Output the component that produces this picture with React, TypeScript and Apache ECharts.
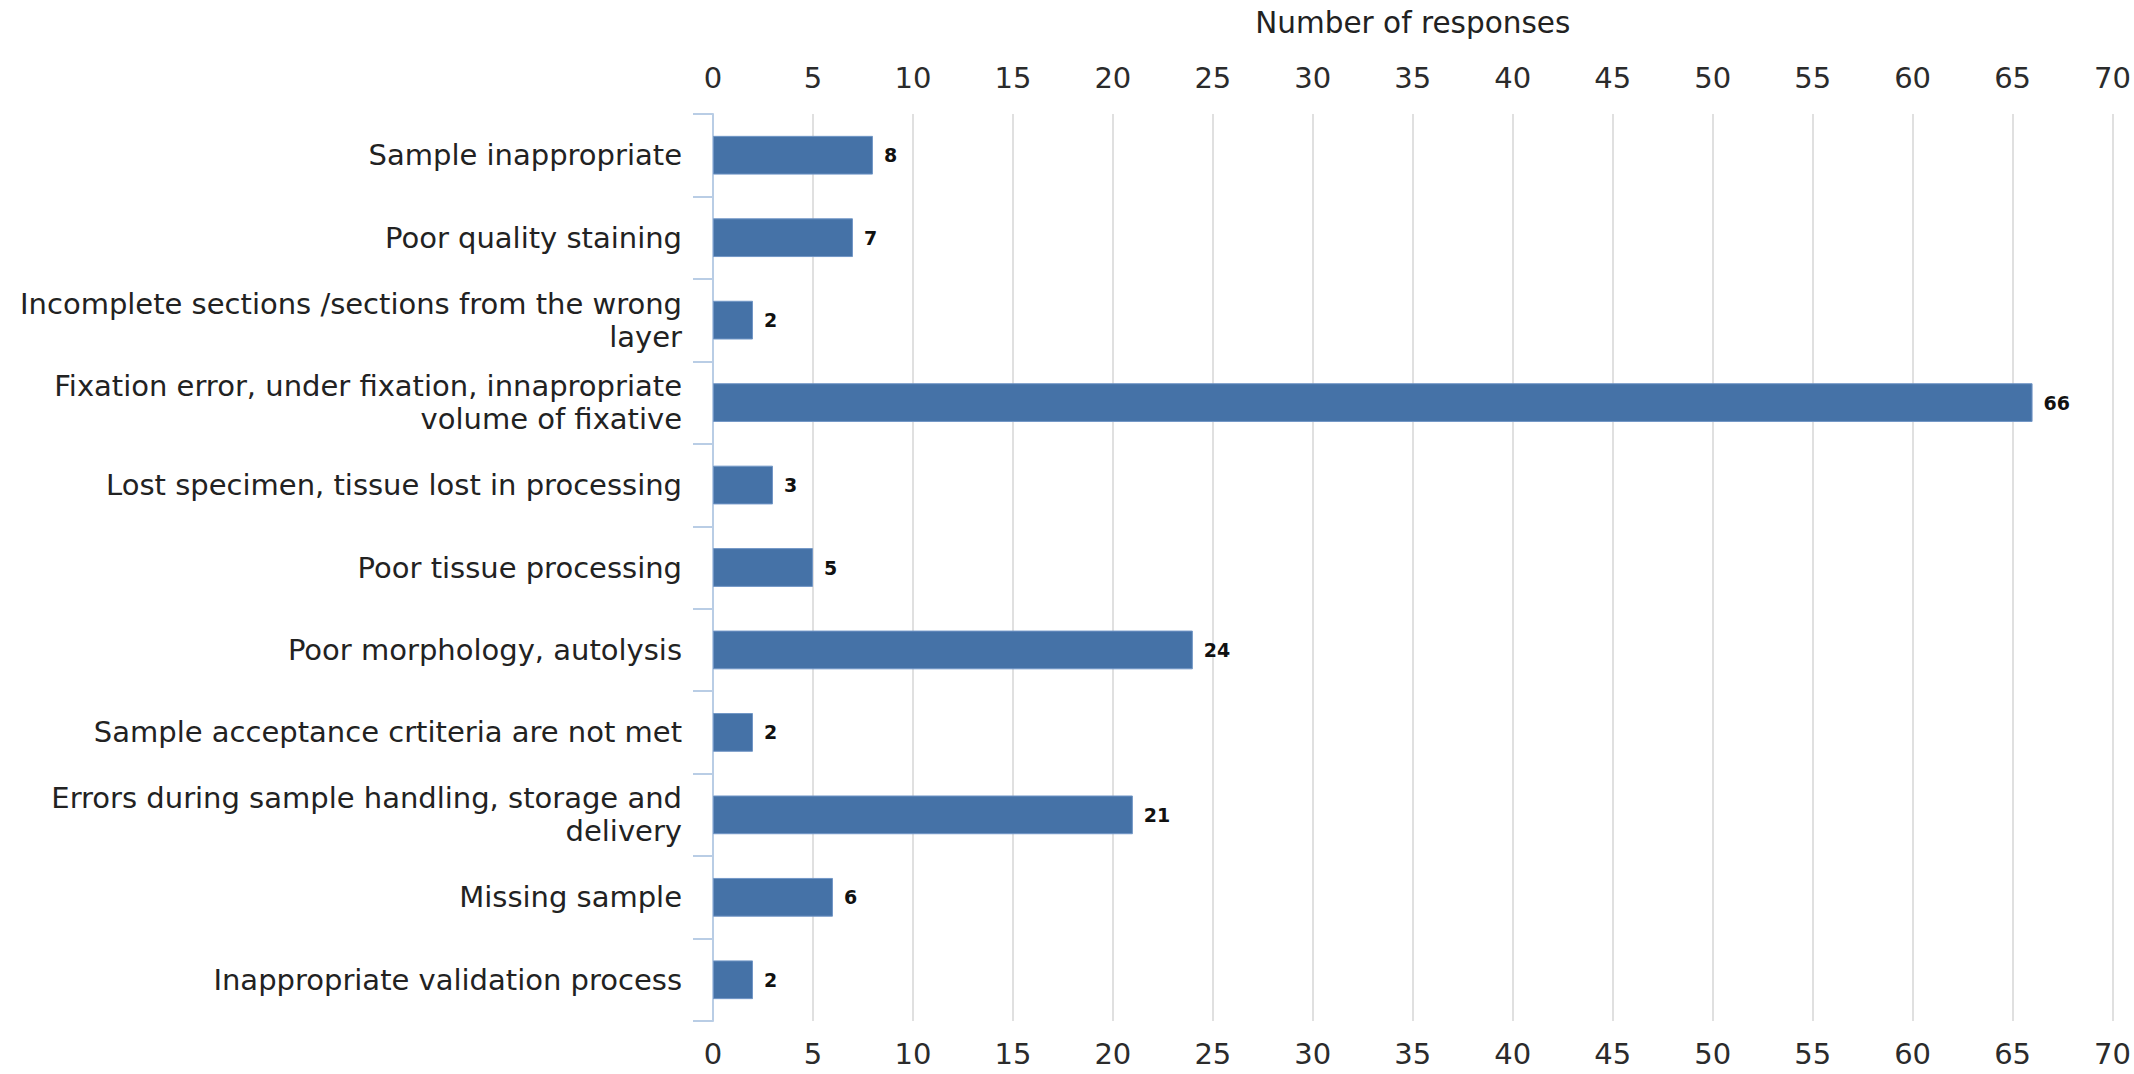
import React, { useEffect, useRef } from "react";
import * as echarts from "echarts";

const categories: string[] = [
  "Sample inappropriate",
  "Poor quality staining",
  "Incomplete sections /sections from the wrong\nlayer",
  "Fixation error, under fixation, innapropriate\nvolume of fixative",
  "Lost specimen, tissue lost in processing",
  "Poor tissue processing",
  "Poor morphology, autolysis",
  "Sample acceptance crtiteria are not met",
  "Errors during sample handling, storage and\ndelivery",
  "Missing sample",
  "Inappropriate validation process",
];

const responses: number[] = [8, 7, 2, 66, 3, 5, 24, 2, 21, 6, 2];

const axisTitle = "Number of responses";
const axisMin = 0;
const axisMax = 70;
const axisInterval = 5;

const FONT = "DejaVu Sans";

export default function App() {
  const ref = useRef<HTMLDivElement>(null);

  useEffect(() => {
    if (!ref.current) return;
    const chart = echarts.init(ref.current, undefined, { renderer: "svg" });
    const valueAxisLabel = {
      fontFamily: FONT,
      fontSize: 29,
      color: "#2b2b2b",
    };
    chart.setOption({
      animation: false,
      backgroundColor: "#ffffff",
      grid: {
        left: 713,
        right: 13,
        top: 114,
        bottom: 53,
        containLabel: false,
      },
      xAxis: [
        {
          type: "value",
          position: "top",
          min: axisMin,
          max: axisMax,
          interval: axisInterval,
          name: axisTitle,
          nameLocation: "middle",
          nameGap: 76,
          nameTextStyle: {
            fontFamily: FONT,
            fontSize: 29.5,
            color: "#222222",
          },
          axisLine: { show: false },
          axisTick: { show: false },
          axisLabel: { ...valueAxisLabel, margin: 22 },
          splitLine: {
            show: true,
            lineStyle: { color: "#d6d6d6", width: 1.5 },
          },
        },
        {
          type: "value",
          position: "bottom",
          min: axisMin,
          max: axisMax,
          interval: axisInterval,
          axisLine: { show: false },
          axisTick: { show: false },
          axisLabel: { ...valueAxisLabel, margin: 18 },
          splitLine: { show: false },
        },
      ],
      yAxis: {
        type: "category",
        data: categories,
        inverse: true,
        axisLine: {
          show: true,
          lineStyle: { color: "#b9cde5", width: 2 },
        },
        axisTick: {
          show: true,
          length: 20,
          lineStyle: { color: "#b9cde5", width: 2 },
        },
        axisLabel: {
          fontFamily: FONT,
          fontSize: 29,
          lineHeight: 33,
          color: "#222222",
          margin: 31,
          align: "right",
        },
        splitLine: { show: false },
      },
      series: [
        {
          type: "bar",
          xAxisIndex: 0,
          data: responses,
          barWidth: "47%",
          itemStyle: {
            color: "#4572a7",
            borderColor: "#7196c6",
            borderWidth: 1,
          },
          label: {
            show: true,
            position: "right",
            distance: 11,
            fontFamily: FONT,
            fontWeight: "bold",
            fontSize: 19,
            color: "#111111",
          },
        },
      ],
    });
    return () => chart.dispose();
  }, []);

  return (
    <div
      ref={ref}
      style={{ position: "fixed", left: 0, top: 0, width: 2134, height: 1074 }}
    />
  );
}
